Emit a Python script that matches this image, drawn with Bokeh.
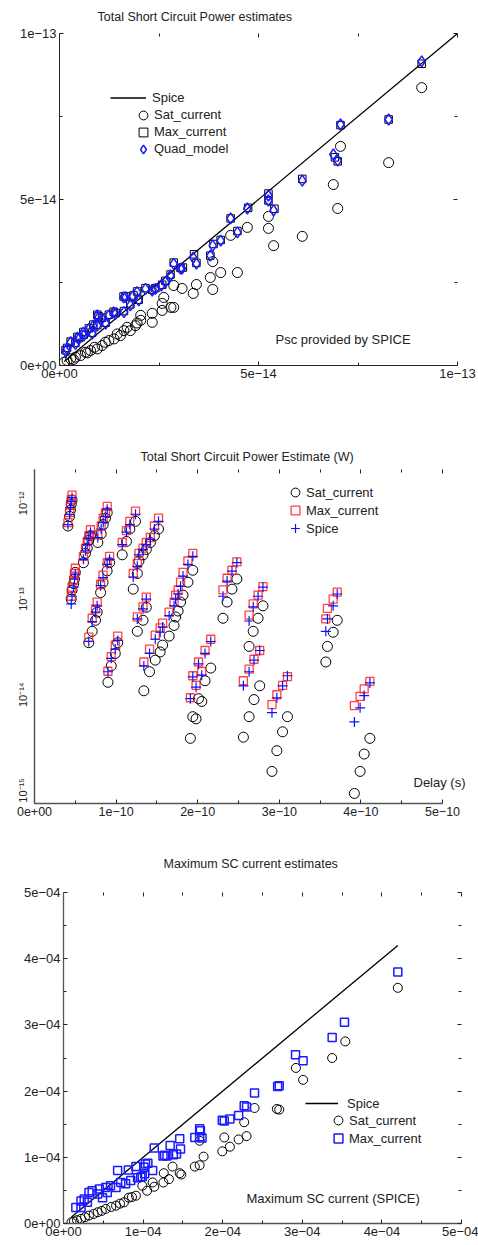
from bokeh.plotting import figure
from bokeh.layouts import column
from bokeh.models import (Range1d, FixedTicker, CustomJSTickFormatter, LinearAxis,
                          Legend, LegendItem, Label, ColumnDataSource, CustomLabelingPolicy)
from bokeh.embed import file_html
from bokeh.resources import INLINE

FONT = "Liberation Sans"

# ---------------- Chart 1: Total Short Circuit Power estimates (units 1e-14 W) -------------
c1_sat_x = [9.10, 7.06, 8.27, 6.88, 6.99, 6.10, 5.25, 5.25, 5.38, 4.72, 4.30, 4.47, 4.05, 3.85,
            3.79, 3.85, 3.44, 3.36, 3.08, 2.87, 2.87, 2.80, 2.62, 2.58, 2.58, 2.33, 2.33, 2.04,
            2.04, 1.91, 1.78, 1.62, 1.53, 1.37, 1.24, 1.07, 0.95, 0.78, 0.65, 0.53, 0.40, 0.28,
            0.19, 0.12, 1.45, 1.15, 0.88, 0.70, 0.35, 1.95, 1.70]
c1_sat_y = [8.37, 6.60, 6.11, 5.45, 4.73, 3.89, 4.49, 4.13, 3.61, 4.16, 3.92, 2.80, 2.80, 3.13,
            2.65, 2.29, 2.44, 2.17, 2.32, 2.41, 1.75, 1.75, 2.05, 1.87, 1.66, 1.57, 1.30, 1.51,
            1.36, 1.20, 1.05, 1.05, 0.90, 0.80, 0.75, 0.60, 0.50, 0.45, 0.40, 0.30, 0.25, 0.20,
            0.15, 0.10, 0.95, 0.70, 0.55, 0.38, 0.18, 1.28, 1.15]

c1_quad_x = [9.10, 7.06, 8.27, 6.88, 6.99, 6.10, 5.25, 5.25, 5.38, 4.72, 4.30, 4.47, 4.05, 3.85,
             3.79, 3.36, 3.44, 3.08, 2.87, 3.04, 2.79, 2.66, 2.56, 2.41, 2.33, 2.16, 1.95, 1.84,
             1.66, 1.99, 1.78, 1.62, 1.41, 1.24, 1.07, 0.95, 1.16, 0.95, 0.74, 0.82, 0.61, 0.49,
             0.40, 0.28, 0.19, 0.15, 1.61, 1.36, 0.98, 0.85, 0.60, 0.45]
c1_quad_y = [9.16, 7.26, 7.41, 6.36, 6.17, 5.57, 5.12, 4.97, 4.67, 4.73, 4.43, 4.01, 3.76, 3.61,
             3.31, 3.25, 3.07, 2.92, 3.06, 2.92, 2.71, 2.51, 2.41, 2.31, 2.26, 2.31, 2.21, 2.08,
             2.06, 1.96, 1.81, 1.61, 1.56, 1.51, 1.41, 1.51, 1.26, 1.20, 1.10, 0.96, 0.90, 0.80,
             0.65, 0.70, 0.50, 0.44, 2.05, 1.60, 1.45, 1.20, 0.99, 0.84]

c1_max_x = [9.10, 7.06, 8.27, 6.92, 6.99, 6.10, 5.25, 5.25, 5.40, 4.74, 4.30, 4.47, 4.05, 3.87,
            3.79, 3.38, 3.44, 3.10, 2.87, 3.04, 2.79, 2.66, 2.58, 2.41, 2.33, 2.16, 1.95, 1.86,
            1.66, 1.99, 1.78, 1.62, 1.41, 1.24, 1.07, 0.95, 1.16, 0.95, 0.74, 0.82, 0.61, 0.49,
            0.40, 0.28, 0.19, 0.15, 1.61, 1.36, 0.98, 0.85, 0.60, 0.45]
c1_max_y = [9.09, 7.24, 7.41, 6.27, 6.15, 5.62, 5.18, 4.97, 4.72, 4.75, 4.43, 4.05, 3.78, 3.66,
            3.31, 3.35, 3.09, 2.95, 3.10, 2.94, 2.74, 2.55, 2.43, 2.33, 2.28, 2.33, 2.23, 2.11,
            2.08, 1.98, 1.84, 1.64, 1.58, 1.53, 1.44, 1.53, 1.29, 1.22, 1.12, 0.99, 0.93, 0.83,
            0.68, 0.72, 0.53, 0.46, 2.08, 1.62, 1.48, 1.23, 1.01, 0.86]

c1_spice_line = [0.12, 10.0]

# ---------------- Chart 2: power vs delay (delay in units of 1e-10 s, power in W) --------------
c2_delay_e10 = [
    0.41, 0.43, 0.44, 0.45, 0.46,
    0.60, 0.625, 0.646, 0.665, 0.686,
    0.776, 0.817, 0.842, 0.870, 0.891,
    1.075, 1.127, 1.168, 1.238,
    1.21, 1.26, 1.28, 1.33, 1.37, 1.42, 1.47, 1.52,
    0.45, 0.46, 0.48, 0.49, 0.50,
    0.81, 0.84, 0.89, 0.92,
    0.665, 0.707, 0.748, 0.768,
    1.34, 1.41, 1.48, 1.54, 1.57, 1.65, 1.71, 1.73, 1.76, 1.79, 1.82, 1.88, 1.94,
    2.31, 2.36, 2.42, 2.48,
    2.63, 2.68, 2.74, 2.80,
    1.91, 1.94, 1.98, 2.01, 2.05, 2.09, 2.16,
    2.56, 2.63, 2.69, 2.76,
    2.91, 2.97, 3.04, 3.10,
    3.57, 3.59, 3.66, 3.71,
    3.92, 3.99, 4.04, 4.11,
    0.90, 0.94, 0.99, 1.02,
    1.26, 1.33, 1.37,
]
c2_spice = [
    6.0e-13, 7.7e-13, 9.1e-13, 1.05e-12, 1.15e-12,
    2.6e-13, 3.2e-13, 3.7e-13, 4.3e-13, 5.0e-13,
    4.4e-13, 5.4e-13, 6.3e-13, 7.3e-13, 8.7e-13,
    3.7e-13, 5.0e-13, 6.0e-13, 7.7e-13,
    1.70e-13, 2.2e-13, 2.9e-13, 3.3e-13, 3.7e-13, 4.2e-13, 5.4e-13, 6.5e-13,
    8.9e-14, 1.07e-13, 1.33e-13, 1.62e-13, 1.82e-13,
    1.38e-13, 1.68e-13, 2.3e-13, 2.6e-13,
    3.6e-14, 5.8e-14, 7.3e-14, 8.5e-14,
    2.0e-14, 2.7e-14, 3.8e-14, 4.5e-14, 5.1e-14, 6.7e-14, 8.5e-14, 1.0e-13, 1.13e-13, 1.36e-13, 1.74e-13, 2.3e-13, 2.8e-13,
    1.07e-13, 1.54e-13, 1.96e-13, 2.4e-13,
    5.9e-14, 8.3e-14, 1.07e-13, 1.33e-13,
    9.1e-15, 1.54e-14, 1.2e-14, 2.1e-14, 1.6e-14, 2.7e-14, 3.6e-14,
    1.24e-14, 1.74e-14, 2.3e-14, 2.9e-14,
    6.5e-15, 9.3e-15, 1.24e-14, 1.58e-14,
    4.6e-14, 6.2e-14, 8.5e-14, 1.13e-13,
    5.2e-15, 7.3e-15, 9.8e-15, 1.33e-14,
    1.74e-14, 2.4e-14, 3.0e-14, 3.7e-14,
    6.2e-14, 7.9e-14, 1.0e-13,
]
c2_max = [
    6.3e-13, 8.0e-13, 9.6e-13, 1.10e-12, 1.22e-12,
    2.8e-13, 3.4e-13, 4.0e-13, 4.6e-13, 5.3e-13,
    4.7e-13, 5.8e-13, 7.0e-13, 8.0e-13, 9.3e-13,
    3.9e-13, 5.2e-13, 6.5e-13, 8.3e-13,
    1.85e-13, 2.35e-13, 3.0e-13, 3.4e-13, 3.9e-13, 4.4e-13, 5.8e-13, 7.0e-13,
    1.07e-13, 1.33e-13, 1.58e-13, 1.85e-13, 2.1e-13,
    1.42e-13, 1.78e-13, 2.4e-13, 2.8e-13,
    4.0e-14, 6.3e-14, 7.9e-14, 9.3e-14,
    2.2e-14, 3.0e-14, 4.2e-14, 5.0e-14, 5.6e-14, 7.3e-14, 9.3e-14, 1.1e-13, 1.25e-13, 1.5e-13, 1.9e-13, 2.5e-13, 3.0e-13,
    1.25e-13, 1.65e-13, 2.0e-13, 2.45e-13,
    6.8e-14, 8.9e-14, 1.1e-13, 1.35e-13,
    9.3e-15, 1.58e-14, 1.25e-14, 2.2e-14, 1.75e-14, 2.9e-14, 3.8e-14,
    1.4e-14, 1.85e-14, 2.35e-14, 2.9e-14,
    7.9e-15, 1.0e-14, 1.25e-14, 1.55e-14,
    6.2e-14, 8.0e-14, 1.0e-13, 1.18e-13,
    7.7e-15, 9.6e-15, 1.15e-14, 1.38e-14,
    1.76e-14, 2.5e-14, 3.3e-14, 4.1e-14,
    6.5e-14, 8.3e-14, 1.05e-13,
]
c2_sat = [
    5.8e-13, 7.3e-13, 8.5e-13, 9.8e-13, 1.08e-12,
    2.4e-13, 3.0e-13, 3.4e-13, 4.1e-13, 4.6e-13,
    3.9e-13, 4.8e-13, 6.0e-13, 7.0e-13, 8.0e-13,
    2.9e-13, 4.0e-13, 5.4e-13, 6.5e-13,
    1.27e-13, 1.85e-13, 2.5e-13, 2.9e-13, 3.3e-13, 3.9e-13, 4.6e-13, 5.4e-13,
    1.0e-13, 1.24e-13, 1.45e-13, 1.62e-13, 1.9e-13,
    1.17e-13, 1.49e-13, 1.97e-13, 2.4e-13,
    3.5e-14, 4.6e-14, 6.0e-14, 7.3e-14,
    1.1e-14, 1.74e-14, 2.3e-14, 2.8e-14, 3.3e-14, 4.1e-14, 5.3e-14, 6.5e-14, 7.5e-14, 9.3e-14, 1.1e-13, 1.5e-13, 2.0e-13,
    6.3e-14, 9.3e-14, 1.27e-13, 1.62e-13,
    3.2e-14, 4.6e-14, 6.3e-14, 8.5e-14,
    3.5e-15, 5.9e-15, 5.6e-15, 9.1e-15, 8.5e-15, 1.4e-14, 1.9e-14,
    3.6e-15, 5.9e-15, 8.9e-15, 1.24e-14,
    1.58e-15, 2.6e-15, 4.1e-15, 5.9e-15,
    2.2e-14, 3.2e-14, 4.5e-14, 6.0e-14,
    9.3e-16, 1.58e-15, 2.4e-15, 3.5e-15,
    1.35e-14, 2.0e-14, 2.7e-14, 3.5e-14,
    4.6e-14, 6.0e-14, 8.2e-14,
]

# ---------------- Chart 3: Maximum SC current estimates (units 1e-4 A) -------------------------
c3_max_x = [4.20, 3.53, 3.375, 2.915, 3.01, 2.69, 2.71, 2.40, 2.27, 2.30, 2.20, 1.995, 2.02, 2.09,
            1.72, 1.71, 1.65, 1.74, 1.71, 1.46, 1.47, 1.34, 1.27, 1.30, 1.25, 1.38, 1.42, 1.14,
            1.06, 1.12, 1.01, 1.02, 0.91, 0.97, 0.68, 0.815, 1.03, 0.93, 0.99, 0.845, 0.78, 0.72,
            0.66, 0.59, 0.53, 0.45, 0.43, 0.36, 0.32, 0.26, 0.22, 0.155, 0.22, 0.30, 0.49, 0.55]
c3_max_y = [3.80, 3.04, 2.81, 2.55, 2.46, 2.07, 2.08, 1.97, 1.78, 1.76, 1.63, 1.56, 1.55, 1.58,
            1.40, 1.31, 1.30, 1.29, 1.43, 1.28, 1.125, 1.18, 1.03, 1.02, 1.02, 1.04, 1.05, 1.14,
            0.91, 0.80, 0.85, 0.75, 0.86, 0.70, 0.80, 0.81, 0.90, 0.69, 0.71, 0.65, 0.60, 0.62,
            0.545, 0.57, 0.545, 0.52, 0.445, 0.495, 0.47, 0.37, 0.34, 0.24, 0.24, 0.32, 0.39, 0.47]

c3_sat_x = [4.20, 3.54, 3.375, 2.92, 3.01, 2.68, 2.71, 2.40, 2.27, 2.30, 2.20, 2.09, 2.02, 1.995,
            1.71, 1.76, 1.71, 1.65, 1.46, 1.48, 1.37, 1.325, 1.26, 1.255, 1.12, 1.14, 1.05, 0.99,
            0.91, 0.86, 0.82, 0.76, 0.71, 0.66, 0.60, 0.53, 0.48, 0.43, 0.38, 0.32, 0.27, 0.22,
            0.17, 0.13, 0.10]
c3_sat_y = [3.56, 2.75, 2.50, 2.35, 2.17, 1.73, 1.72, 1.745, 1.53, 1.32, 1.27, 1.16, 1.30, 1.09,
            1.25, 1.01, 0.88, 0.86, 0.76, 0.74, 0.86, 0.67, 0.76, 0.62, 0.62, 0.555, 0.495, 0.57,
            0.42, 0.40, 0.39, 0.32, 0.30, 0.27, 0.25, 0.22, 0.19, 0.17, 0.145, 0.12, 0.095, 0.07,
            0.05, 0.03, 0.02]

c3_spice_line = [0.10, 4.20]

# ---------------------------------------------------------------------------------------------
EXP_FMT = """
if (tick == 0) { return "0e+00"; }
const s = tick.toExponential(0);
const parts = s.split("e");
let e = parts[1];
const sign = (e[0] == "-") ? "\\u2212" : "+";
e = e.replace("-", "").replace("+", "");
if (e.length < 2) { e = "0" + e; }
return parts[0] + "e" + sign + e;
"""
LOG_FMT = """
const e = Math.round(Math.log10(tick));
const sup = {"-": "\\u207B", "0": "\\u2070", "1": "\\u00B9", "2": "\\u00B2", "3": "\\u00B3",
             "4": "\\u2074", "5": "\\u2075", "6": "\\u2076", "7": "\\u2077", "8": "\\u2078", "9": "\\u2079"};
return "10" + String(e).split("").map(c => sup[c]).join("");
"""


def style_axis(ax, fs="13px"):
    ax.major_label_text_font = FONT
    ax.major_label_text_font_size = fs
    ax.major_label_text_color = "#222222"
    ax.major_tick_in = 4
    ax.major_tick_out = 0
    ax.minor_tick_in = 3
    ax.minor_tick_out = 0
    ax.major_tick_line_color = "#222222"
    ax.minor_tick_line_color = "#222222"
    ax.axis_line_color = "#222222"
    ax.major_label_standoff = 3


def mirror(p, side, ticker, bounds=None):
    ax = LinearAxis(ticker=ticker)
    style_axis(ax)
    ax.axis_line_color = None
    ax.major_label_text_font_size = "1px"
    ax.major_label_standoff = 0
    ax.major_label_policy = CustomLabelingPolicy(code="return [];")
    if bounds is not None:
        ax.bounds = bounds
    p.add_layout(ax, side)


def base_fig(h, bl, br, bt, bb, xr, yr, ytype="linear"):
    p = figure(width=478, height=h, output_backend="svg", toolbar_location=None,
               x_range=xr, y_range=yr, y_axis_type=ytype,
               min_border_left=bl, min_border_right=br, min_border_top=bt, min_border_bottom=bb)
    try:
        p.frame_align = False
    except Exception:
        pass
    p.grid.visible = False
    p.outline_line_color = None
    p.background_fill_color = "white"
    p.border_fill_color = "white"
    p.title.text_font = FONT
    p.title.text_font_style = "normal"
    p.title.text_font_size = "12.5px"
    p.title.text_color = "#222222"
    p.title.align = "left"
    return p


def add_label(p, text, x, y):
    p.add_layout(Label(x=x, y=y, x_units="screen", y_units="screen", text=text,
                       text_font=FONT, text_font_size="13px", text_color="#222222",
                       text_align="left", text_baseline="middle"))


def add_legend(p, label, renderer, loc, gw, gh, standoff):
    p.add_layout(Legend(items=[LegendItem(label=label, renderers=[renderer])], location=loc,
                        glyph_width=gw, glyph_height=gh, label_height=gh,
                        label_standoff=standoff, padding=0, margin=0, spacing=0,
                        border_line_color=None, background_fill_alpha=0,
                        label_text_font=FONT, label_text_font_size="13px",
                        label_text_color="#222222"))


# ---------------- Figure 1 ----------------
p1 = base_fig(432, 59, 21, 33, 67, Range1d(0, 1e-13), Range1d(0, 1e-13))
p1.title.text = "Total Short Circuit Power estimates"
p1.title.offset = 38
p1.title.standoff = 12
t1 = FixedTicker(ticks=[0, 5e-14, 1e-13], minor_ticks=[2.5e-14, 7.5e-14])
for ax in p1.xaxis + p1.yaxis:
    ax.ticker = t1
    ax.formatter = CustomJSTickFormatter(code=EXP_FMT)
    style_axis(ax)
mirror(p1, "above", t1)
mirror(p1, "right", t1)

E14 = 1e-14
s1_line = ColumnDataSource(dict(x=[v * E14 for v in c1_spice_line], y=[v * E14 for v in c1_spice_line]))
s1_sat = ColumnDataSource(dict(x=[v * E14 for v in c1_sat_x], y=[v * E14 for v in c1_sat_y]))
s1_max = ColumnDataSource(dict(x=[v * E14 for v in c1_max_x], y=[v * E14 for v in c1_max_y]))
s1_quad = ColumnDataSource(dict(x=[v * E14 for v in c1_quad_x], y=[v * E14 for v in c1_quad_y]))
r1_line = p1.line("x", "y", source=s1_line, line_color="black", line_width=1.3)
r1_sat = p1.scatter("x", "y", source=s1_sat, marker="circle", size=10, fill_color=None,
                    line_color="black", line_width=1)
r1_max = p1.scatter("x", "y", source=s1_max, marker="square", size=7.5, fill_color=None,
                    line_color="black", line_width=1)
r1_quad = p1.scatter("x", "y", source=s1_quad, marker="diamond", size=11, fill_color=None,
                     line_color="#1a1aff", line_width=1.5)
add_legend(p1, "Spice", r1_line, (51, 259), 36, 17, 6)
add_legend(p1, "Sat_current", r1_sat, (73, 239.5), 22, 22, 0)
add_legend(p1, "Max_current", r1_max, (73, 222.5), 22, 22, 0)
add_legend(p1, "Quad_model", r1_quad, (73, 205.5), 22, 22, 0)
add_label(p1, "Psc provided by SPICE", 216, 26)

# ---------------- Figure 2 ----------------
# frame runs 34..472 px; the 0..5e-10 axis spans 34..442 px (axis bounds), leaving room for the label
p2 = base_fig(403, 34, 6, 37, 32, Range1d(0, 5.3676e-10), Range1d(7.3e-16, 2.26e-12), ytype="log")
p2.title.text = "Total Short Circuit Power Estimate (W)"
p2.title.offset = 106
p2.title.standoff = 3
tx2 = FixedTicker(ticks=[0, 1e-10, 2e-10, 3e-10, 4e-10, 5e-10],
                  minor_ticks=[0.5e-10, 1.5e-10, 2.5e-10, 3.5e-10, 4.5e-10])
ty2 = FixedTicker(ticks=[1e-15, 1e-14, 1e-13, 1e-12], minor_ticks=[])
for ax in p2.xaxis:
    ax.ticker = tx2
    ax.formatter = CustomJSTickFormatter(code=EXP_FMT)
    style_axis(ax, "12.5px")
    ax.axis_line_width = 1.5
    ax.axis_line_color = "#555555"
    ax.bounds = (0, 5e-10)
for ax in p2.yaxis:
    ax.ticker = ty2
    ax.formatter = CustomJSTickFormatter(code=LOG_FMT)
    style_axis(ax, "11px")
    ax.major_label_orientation = "vertical"
    ax.major_tick_in = 0
    ax.major_label_standoff = 5
    ax.axis_line_width = 1.5
    ax.axis_line_color = "#555555"
mirror(p2, "above", tx2, bounds=(0, 5e-10))

E10 = 1e-10
s2 = ColumnDataSource(dict(x=[v * E10 for v in c2_delay_e10], spice=c2_spice, mx=c2_max, sat=c2_sat))
r2_sat = p2.scatter("x", "sat", source=s2, marker="circle", size=10, fill_color=None,
                    line_color="black", line_width=1)
r2_max = p2.scatter("x", "mx", source=s2, marker="square", size=8, fill_color=None,
                    line_color="#ff2020", line_alpha=0.85, line_width=1.3)
r2_sp = p2.scatter("x", "spice", source=s2, marker="cross", size=10, line_color="#1010ff",
                   line_width=1.2)
add_legend(p2, "Sat_current", r2_sat, (250, 300), 22, 22, 0)
add_legend(p2, "Max_current", r2_max, (250, 282), 22, 22, 0)
add_legend(p2, "Spice", r2_sp, (250, 264), 22, 22, 0)
add_label(p2, "Delay (s)", 379, 21)

# ---------------- Figure 3 ----------------
p3 = base_fig(410, 63, 17, 57, 22, Range1d(0, 5e-4), Range1d(0, 5e-4))
p3.title.text = "Maximum SC current estimates"
p3.title.offset = 100
p3.title.standoff = 35
tx3 = FixedTicker(ticks=[0, 1e-4, 2e-4, 3e-4, 4e-4, 5e-4],
                  minor_ticks=[0.5e-4, 1.5e-4, 2.5e-4, 3.5e-4, 4.5e-4])
for ax in p3.xaxis + p3.yaxis:
    ax.ticker = tx3
    ax.formatter = CustomJSTickFormatter(code=EXP_FMT)
    style_axis(ax)
    ax.axis_line_width = 1.3
    ax.axis_line_color = "#555555"
mirror(p3, "above", tx3)
mirror(p3, "right", tx3)

E4 = 1e-4
s3_line = ColumnDataSource(dict(x=[v * E4 for v in c3_spice_line], y=[v * E4 for v in c3_spice_line]))
s3_sat = ColumnDataSource(dict(x=[v * E4 for v in c3_sat_x], y=[v * E4 for v in c3_sat_y]))
s3_max = ColumnDataSource(dict(x=[v * E4 for v in c3_max_x], y=[v * E4 for v in c3_max_y]))
r3_line = p3.line("x", "y", source=s3_line, line_color="black", line_width=1.3)
r3_sat = p3.scatter("x", "y", source=s3_sat, marker="circle", size=9, fill_color=None,
                    line_color="black", line_width=1)
r3_max = p3.scatter("x", "y", source=s3_max, marker="square", size=8, fill_color=None,
                    line_color="#1a1aff", line_width=1.5)
add_legend(p3, "Spice", r3_line, (242, 111), 33, 18, 9)
add_legend(p3, "Sat_current", r3_sat, (264, 92), 22, 22, 0)
add_legend(p3, "Max_current", r3_max, (264, 74), 22, 22, 0)
add_label(p3, "Maximum SC current (SPICE)", 183, 25)

layout = column(p1, p2, p3, spacing=0)
open("out.html", "w").write(file_html(layout, INLINE))
